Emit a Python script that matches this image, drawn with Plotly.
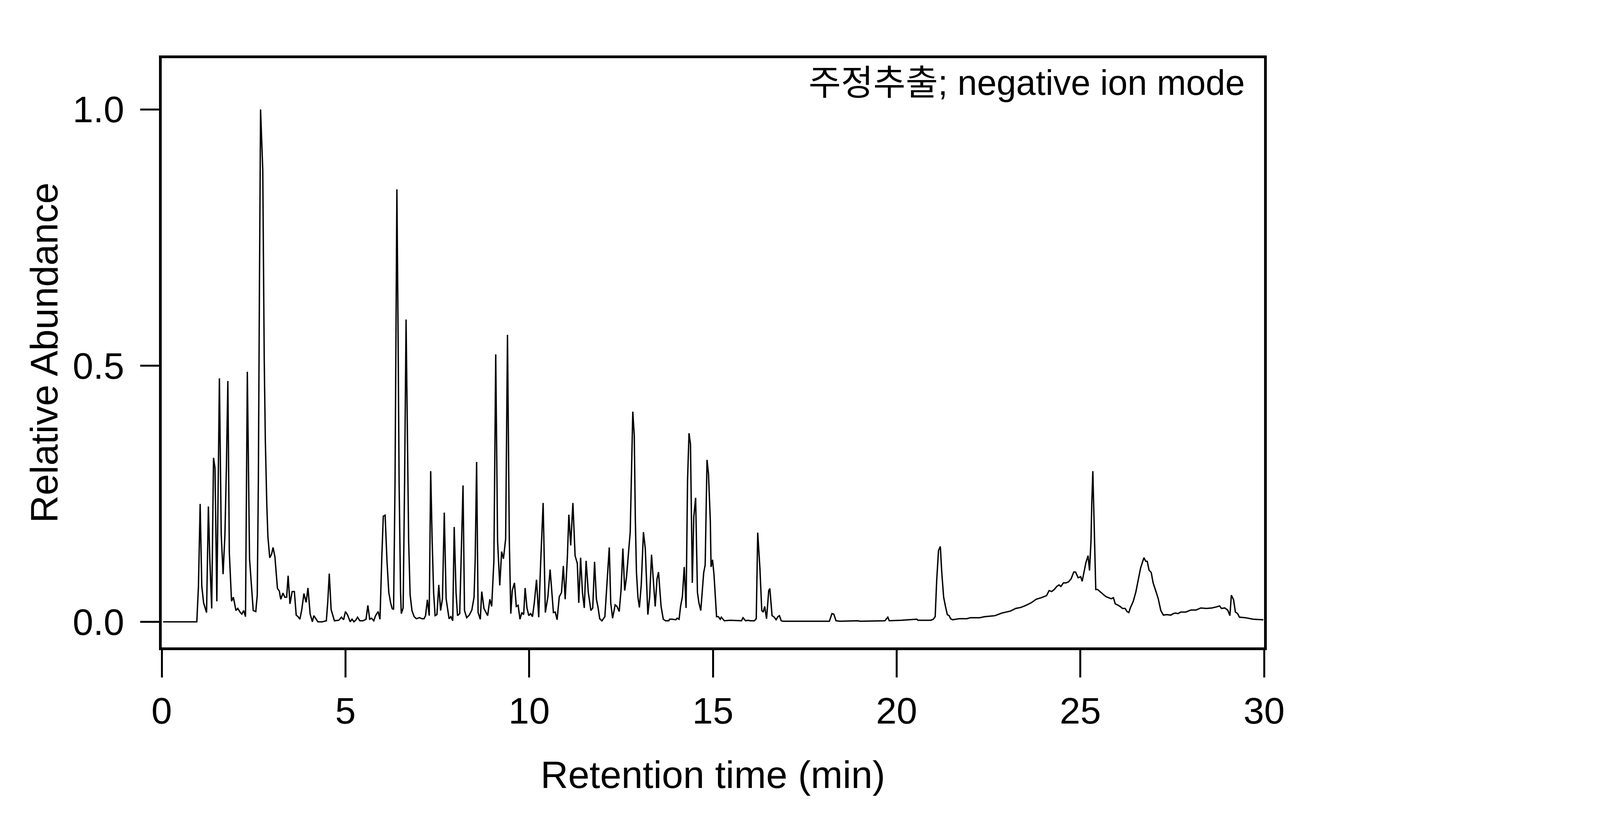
import plotly.graph_objects as go

# Chromatogram, in three pieces (retention time in min, relative abundance)
rt_0_10 = [0.04, 0.5, 0.955, 1.0, 1.046, 1.09, 1.14, 1.22, 1.27, 1.31, 1.36, 1.41, 1.45, 1.50, 1.57, 1.62,
           1.67, 1.72, 1.76, 1.80, 1.84, 1.90, 1.95, 2.02, 2.07, 2.14, 2.18, 2.23, 2.28, 2.33, 2.39, 2.49,
           2.56, 2.60, 2.63, 2.66, 2.69, 2.75, 2.79, 2.82, 2.86, 2.89, 2.94, 2.99, 3.03, 3.08, 3.15, 3.20,
           3.24, 3.30, 3.35, 3.40, 3.44, 3.49, 3.55, 3.61, 3.66, 3.71, 3.76, 3.81, 3.87, 3.93, 3.98, 4.04,
           4.10, 4.14, 4.25, 4.37, 4.48, 4.52, 4.56, 4.61, 4.70, 4.82, 4.89, 4.95, 5.00, 5.06, 5.13, 5.18,
           5.23, 5.28, 5.33, 5.39, 5.48, 5.56, 5.61, 5.66, 5.71, 5.77, 5.82, 5.89, 5.94, 5.99, 6.03, 6.08,
           6.13, 6.18, 6.23, 6.27, 6.31, 6.35, 6.37, 6.40, 6.43, 6.46, 6.50, 6.52, 6.57, 6.61, 6.65, 6.69,
           6.72, 6.76, 6.81, 6.87, 6.93, 7.02, 7.08, 7.14, 7.18, 7.23, 7.28, 7.32, 7.36, 7.40, 7.44, 7.49,
           7.54, 7.59, 7.64, 7.69, 7.74, 7.82, 7.87, 7.92, 7.96, 8.01, 8.05, 8.11, 8.15, 8.20, 8.24, 8.30,
           8.37, 8.44, 8.50, 8.53, 8.57, 8.61, 8.67, 8.71, 8.77, 8.83, 8.87, 8.93, 8.98, 9.04, 9.09, 9.14,
           9.20, 9.25, 9.30, 9.36, 9.41, 9.46, 9.50, 9.54, 9.60, 9.65, 9.70, 9.75, 9.80, 9.85, 9.89, 9.94,
           9.99, 10.04, 10.09, 10.14, 10.20, 10.26]
ab_0_10 = [0.0, 0.0, 0.0, 0.07, 0.23, 0.07, 0.037, 0.018, 0.225, 0.12, 0.026, 0.32, 0.30, 0.04, 0.475, 0.17,
           0.093, 0.17, 0.30, 0.47, 0.135, 0.04, 0.048, 0.022, 0.026, 0.018, 0.015, 0.022, 0.01, 0.488, 0.123, 0.022,
           0.02, 0.052, 0.275, 0.66, 1.0, 0.882, 0.51, 0.353, 0.228, 0.166, 0.125, 0.132, 0.145, 0.127, 0.065, 0.06,
           0.044, 0.056, 0.048, 0.048, 0.09, 0.035, 0.059, 0.059, 0.013, 0.01, 0.005, 0.023, 0.055, 0.038, 0.066, 0.015,
           0.0, 0.012, 0.0, 0.0, 0.002, 0.04, 0.094, 0.024, 0.002, 0.003, 0.009, 0.004, 0.02, 0.013, 0.0, 0.005,
           0.0, 0.003, 0.009, 0.002, 0.002, 0.005, 0.032, 0.005, 0.007, 0.002, 0.012, 0.02, 0.005, 0.127, 0.206, 0.208,
           0.119, 0.057, 0.037, 0.026, 0.024, 0.275, 0.51, 0.844, 0.586, 0.275, 0.057, 0.016, 0.027, 0.275, 0.59, 0.353,
           0.158, 0.053, 0.022, 0.01, 0.006, 0.008, 0.006, 0.006, 0.012, 0.043, 0.012, 0.294, 0.158, 0.057, 0.012, 0.014,
           0.072, 0.022, 0.045, 0.213, 0.045, 0.006, 0.01, 0.002, 0.185, 0.057, 0.012, 0.016, 0.119, 0.266, 0.022, 0.008,
           0.013, 0.023, 0.048, 0.119, 0.312, 0.018, 0.005, 0.059, 0.026, 0.018, 0.012, 0.044, 0.03, 0.119, 0.522, 0.158,
           0.071, 0.137, 0.123, 0.162, 0.56, 0.158, 0.016, 0.061, 0.076, 0.03, 0.032, 0.005, 0.018, 0.014, 0.066, 0.027,
           0.012, 0.016, 0.01, 0.037, 0.082, 0.009]

rt_10_20 = [10.31, 10.38, 10.44, 10.51, 10.57, 10.66, 10.71, 10.76, 10.82, 10.88, 10.93, 10.98, 11.04, 11.08,
            11.13, 11.19, 11.25, 11.31, 11.35, 11.40, 11.45, 11.50, 11.55, 11.61, 11.68, 11.73, 11.78, 11.83,
            11.87, 11.92, 11.98, 12.06, 12.12, 12.18, 12.22, 12.27, 12.34, 12.39, 12.45, 12.50, 12.55, 12.60,
            12.65, 12.70, 12.75, 12.78, 12.82, 12.86, 12.89, 12.92, 12.96, 13.00, 13.05, 13.11, 13.16, 13.23,
            13.28, 13.33, 13.38, 13.43, 13.48, 13.52, 13.59, 13.65, 13.71, 13.80, 13.82, 13.89, 13.99, 14.03,
            14.08, 14.12, 14.17, 14.22, 14.27, 14.31, 14.35, 14.39, 14.44, 14.48, 14.53, 14.58, 14.62, 14.67,
            14.75, 14.79, 14.84, 14.88, 14.93, 14.95, 14.99, 15.03, 15.10, 15.15, 15.20, 15.23, 15.31, 15.47,
            15.78, 15.82, 15.89, 15.96, 16.01, 16.08, 16.13, 16.18, 16.22, 16.28, 16.33, 16.37, 16.41, 16.46,
            16.52, 16.55, 16.61, 16.67, 16.72, 16.77, 16.81, 16.86, 16.91, 17.61, 18.17, 18.24, 18.29, 18.35,
            18.45, 18.94, 19.01, 19.68, 19.76, 19.80, 20.13, 20.55]
ab_10_20 = [0.11, 0.232, 0.018, 0.049, 0.102, 0.018, 0.019, 0.004, 0.049, 0.057, 0.109, 0.044, 0.127, 0.209,
            0.149, 0.232, 0.129, 0.114, 0.037, 0.125, 0.057, 0.027, 0.119, 0.057, 0.022, 0.027, 0.117, 0.044,
            0.03, 0.006, 0.002, 0.01, 0.076, 0.145, 0.037, 0.007, 0.033, 0.03, 0.02, 0.061, 0.143, 0.061,
            0.088, 0.135, 0.175, 0.275, 0.41, 0.364, 0.197, 0.096, 0.048, 0.028, 0.072, 0.175, 0.143, 0.014,
            0.049, 0.131, 0.08, 0.03, 0.084, 0.097, 0.03, 0.005, 0.002, 0.002, 0.005, 0.005, 0.004, 0.007,
            0.005, 0.03, 0.049, 0.107, 0.027, 0.275, 0.368, 0.347, 0.076, 0.205, 0.242, 0.057, 0.037, 0.022,
            0.096, 0.111, 0.316, 0.289, 0.197, 0.107, 0.121, 0.092, 0.01, 0.01, 0.005, 0.009, 0.002, 0.003,
            0.002, 0.008, 0.002, 0.003, 0.002, 0.002, 0.002, 0.006, 0.174, 0.104, 0.022, 0.019, 0.03, 0.006,
            0.061, 0.065, 0.012, 0.009, 0.004, 0.01, 0.012, 0.002, 0.001, 0.001, 0.001, 0.016, 0.015, 0.002,
            0.001, 0.002, 0.001, 0.002, 0.009, 0.002, 0.003, 0.005]

rt_20_30 = [20.58, 20.93, 21.0, 21.05, 21.09, 21.14, 21.19, 21.23, 21.28, 21.33, 21.38, 21.43, 21.47, 21.52,
            21.70, 21.91, 22.01, 22.26, 22.40, 22.68, 22.86, 23.10, 23.24, 23.38, 23.52, 23.66, 23.80, 23.94,
            24.08, 24.15, 24.22, 24.29, 24.36, 24.42, 24.47, 24.54, 24.61, 24.68, 24.75, 24.82, 24.87, 24.94,
            25.01, 25.05, 25.10, 25.15, 25.21, 25.25, 25.29, 25.31, 25.34, 25.37, 25.40, 25.42, 25.47, 25.56,
            25.63, 25.70, 25.77, 25.84, 25.90, 25.95, 26.01, 26.08, 26.15, 26.22, 26.27, 26.32, 26.36, 26.44,
            26.51, 26.58, 26.64, 26.73, 26.78, 26.82, 26.87, 26.93, 26.98, 27.05, 27.12, 27.19, 27.26, 27.35,
            27.46, 27.53, 27.59, 27.66, 27.73, 27.87, 28.01, 28.15, 28.28, 28.43, 28.58, 28.70, 28.79, 28.84,
            28.93, 29.01, 29.07, 29.11, 29.17, 29.22, 29.28, 29.33, 29.49, 29.70, 29.98]
ab_20_30 = [0.003, 0.003, 0.005, 0.01, 0.08, 0.139, 0.147, 0.095, 0.048, 0.03, 0.014, 0.012, 0.006, 0.004,
            0.006, 0.006, 0.008, 0.008, 0.01, 0.012, 0.017, 0.021, 0.026, 0.028, 0.032, 0.037, 0.044, 0.047,
            0.051, 0.061, 0.059, 0.063, 0.069, 0.072, 0.069, 0.076, 0.076, 0.078, 0.084, 0.097, 0.097, 0.086,
            0.088, 0.079, 0.096, 0.115, 0.129, 0.1, 0.158, 0.228, 0.294, 0.197, 0.104, 0.063, 0.063, 0.057,
            0.053, 0.049, 0.047, 0.045, 0.047, 0.035, 0.033, 0.03, 0.026, 0.026, 0.02, 0.018, 0.027, 0.04,
            0.058, 0.084, 0.105, 0.125, 0.118, 0.118, 0.101, 0.096, 0.076, 0.061, 0.045, 0.022, 0.013, 0.014,
            0.013, 0.016, 0.017, 0.016, 0.019, 0.019, 0.023, 0.023, 0.027, 0.026, 0.027, 0.029, 0.031, 0.026,
            0.027, 0.023, 0.012, 0.052, 0.043, 0.019, 0.016, 0.009, 0.008, 0.005, 0.004]

x_ticks = [0, 5, 10, 15, 20, 25, 30]
y_ticks = [0.0, 0.5, 1.0]

assert len(rt_0_10) == len(ab_0_10), (len(rt_0_10), len(ab_0_10))
assert len(rt_10_20) == len(ab_10_20), (len(rt_10_20), len(ab_10_20))
assert len(rt_20_30) == len(ab_20_30), (len(rt_20_30), len(ab_20_30))

rt = rt_0_10 + rt_10_20 + rt_20_30
ab = ab_0_10 + ab_10_20 + ab_20_30

# the browser here only opens 4096 px wide (height stays 2100), so the
# 6000 px layout is squeezed horizontally by SX and kept as is vertically
SX = 4096 / 6000
FONT = "Liberation Sans, Arial, Noto Sans CJK KR, sans-serif"

fig = go.Figure()
fig.add_trace(go.Scatter(x=rt, y=ab, mode="lines",
                         line=dict(color="black", width=3.5), showlegend=False))

# sample label, top right inside the frame
fig.add_annotation(text="주정추출; negative ion mode", xref="paper", x=1, xanchor="right", xshift=-47,
                   yref="y", y=1.052, yanchor="middle", showarrow=False,
                   font=dict(family=FONT, size=90, color="black"))

axis_common = dict(showline=True, linecolor="black", linewidth=7, mirror=True,
                   ticks="outside", tickwidth=5, tickcolor="black",
                   showgrid=False, zeroline=False,
                   tickfont=dict(family=FONT, size=95, color="black"))

fig.update_layout(
    width=4096, height=2100,
    paper_bgcolor="white", plot_bgcolor="white",
    margin=dict(l=round(595 * SX), r=round(1272 * SX), t=141, b=450),
    xaxis=dict(range=[0, 30], tickvals=x_ticks, ticklen=70, ticklabelstandoff=4,
               title=dict(text="Retention time (min)", standoff=80,
                          font=dict(family=FONT, size=98, color="black")),
               **axis_common),
    yaxis=dict(range=[-0.05, 1.10], tickvals=y_ticks, tickformat=".1f",
               ticklen=round(70 * SX), ticklabelstandoff=22,
               title=dict(text="Relative Abundance", standoff=8,
                          font=dict(family=FONT, size=98, color="black")),
               **axis_common),
)

fig.write_html("out.html")
